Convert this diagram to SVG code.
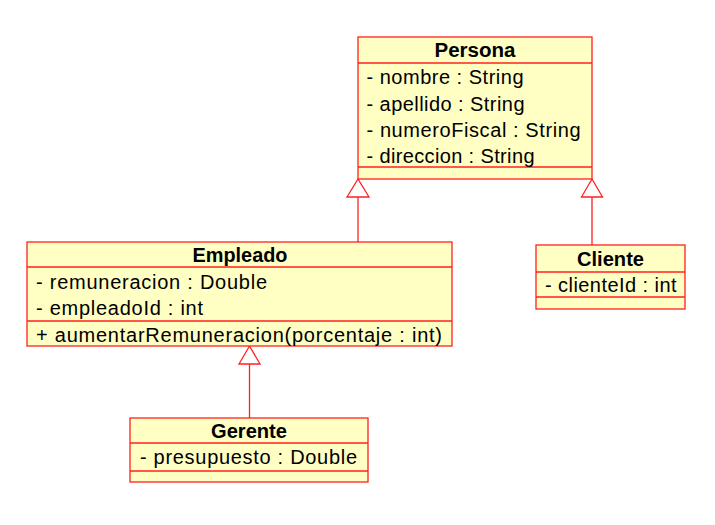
<svg xmlns="http://www.w3.org/2000/svg" width="715" height="525" viewBox="0 0 715 525">
<style>
.box{fill:#FFFFC4;stroke:#FF2020;stroke-width:1.3}
.div{stroke:#FF2020;stroke-width:1.3}
.t{font-family:"Liberation Sans",Arial,sans-serif;font-size:20px;fill:#000}
.h{font-family:"Liberation Sans",Arial,sans-serif;font-size:19.5px;font-weight:bold;fill:#000;text-anchor:middle}
.ln{stroke:#FF2020;stroke-width:1.3;fill:none}
.tri{fill:#fff;stroke:#FF2020;stroke-width:1.3}
</style>
<rect width="715" height="525" fill="#fff"/>
<g id="connectors">
<line class="ln" x1="358" y1="242" x2="358" y2="197"/>
<polygon class="tri" points="358,179 347,197 369,197"/>
<line class="ln" x1="592" y1="245" x2="592" y2="197"/>
<polygon class="tri" points="592,179 581.5,197 602.5,197"/>
<line class="ln" x1="249.5" y1="418" x2="249.5" y2="364"/>
<polygon class="tri" points="249.5,346 239,364 260,364"/>
</g>
<g id="persona">
<rect class="box" x="358" y="37" width="234" height="142"/>
<line class="div" x1="358" y1="63" x2="592" y2="63"/>
<line class="div" x1="358" y1="167" x2="592" y2="167"/>
<text class="h" x="475" y="57" textLength="81" lengthAdjust="spacingAndGlyphs">Persona</text>
<text class="t" x="366.5" y="84" textLength="157" lengthAdjust="spacing">- nombre : String</text>
<text class="t" x="366.5" y="110.5" textLength="158" lengthAdjust="spacing">- apellido : String</text>
<text class="t" x="366.5" y="136.5" textLength="214" lengthAdjust="spacing">- numeroFiscal : String</text>
<text class="t" x="366.5" y="163" textLength="168" lengthAdjust="spacing">- direccion : String</text>
</g>
<g id="empleado">
<rect class="box" x="27" y="242" width="425" height="104"/>
<line class="div" x1="27" y1="267" x2="452" y2="267"/>
<line class="div" x1="27" y1="321" x2="452" y2="321"/>
<text class="h" x="240" y="261.5" textLength="95" lengthAdjust="spacingAndGlyphs">Empleado</text>
<text class="t" x="36" y="289" textLength="231" lengthAdjust="spacing">- remuneracion : Double</text>
<text class="t" x="36" y="315" textLength="167" lengthAdjust="spacing">- empleadoId : int</text>
<text class="t" x="36" y="341.5" textLength="406" lengthAdjust="spacing">+ aumentarRemuneracion(porcentaje : int)</text>
</g>
<g id="gerente">
<rect class="box" x="130" y="418" width="238" height="64"/>
<line class="div" x1="130" y1="443" x2="368" y2="443"/>
<line class="div" x1="130" y1="471" x2="368" y2="471"/>
<text class="h" x="249" y="438" textLength="76" lengthAdjust="spacingAndGlyphs">Gerente</text>
<text class="t" x="140" y="464" textLength="217" lengthAdjust="spacing">- presupuesto : Double</text>
</g>
<g id="cliente">
<rect class="box" x="536" y="245" width="149" height="64"/>
<line class="div" x1="536" y1="272" x2="685" y2="272"/>
<line class="div" x1="536" y1="297" x2="685" y2="297"/>
<text class="h" x="610.5" y="265.5" textLength="67" lengthAdjust="spacingAndGlyphs">Cliente</text>
<text class="t" x="545" y="291.5" textLength="131.5" lengthAdjust="spacing">- clienteId : int</text>
</g>
</svg>
